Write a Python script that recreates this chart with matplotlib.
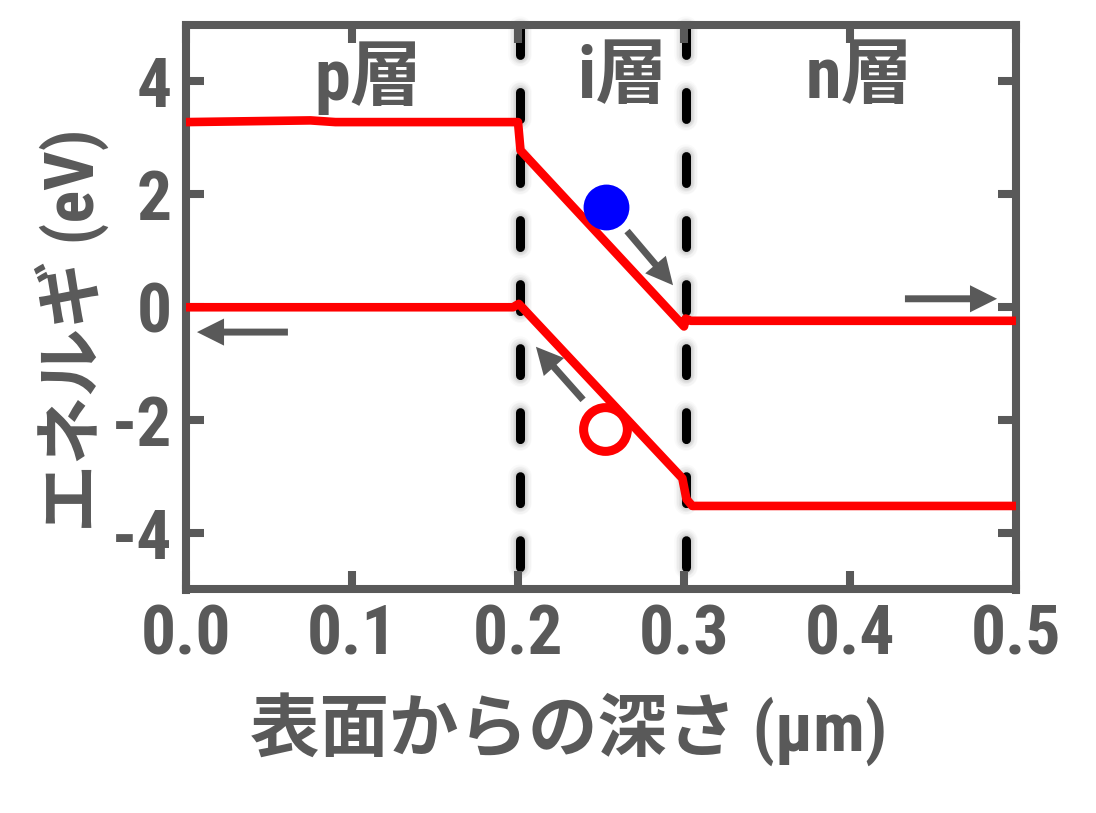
#!/usr/bin/env python
import matplotlib
matplotlib.use('Agg')
from matplotlib import pyplot as plt

plt.rcParams['font.family'] = ['Roboto Condensed', 'Noto Sans CJK JP', 'DejaVu Sans']
plt.rcParams['lines.scale_dashes'] = False

GRAY = '#595959'
RED = '#ff0000'
BLUE = '#0000ff'

# band edges
cond_x = [0.0, 0.075, 0.09, 0.2, 0.2015, 0.3, 0.301, 0.304, 0.5]
cond_y = [3.28, 3.31, 3.28, 3.28, 2.78, -0.34, -0.2, -0.24, -0.24]
val_x = [0.0, 0.197, 0.2005, 0.299, 0.3015, 0.305, 0.5]
val_y = [0.0, 0.0, 0.06, -3.03, -3.4, -3.52, -3.52]

boundaries = [0.2012, 0.3014]
boundary_y = [4.946, -4.707]

layer_x = [0.1096, 0.263, 0.4055]
layer_names = ['p層', 'i層', 'n層']

electron = (0.253, 1.77)
hole = (0.2524, -2.16)

arrow_tails = [(0.2657, 1.35), (0.2392, -1.64), (0.0614, -0.44), (0.4331, 0.15)]
arrow_tips = [(0.2934, 0.39), (0.2108, -0.70), (0.0066, -0.44), (0.4886, 0.15)]

xticks = [0.0, 0.1, 0.2, 0.3, 0.4, 0.5]
xticklabels = ['0.0', '0.1', '0.2', '0.3', '0.4', '0.5']
yticks = [-4, -2, 0, 2, 4]
yticklabels = ['-4', '-2', '0', '2', '4']

fig = plt.figure(figsize=(10.96, 8.13), dpi=100)
ax = fig.add_axes([186 / 1096, 1 - 589.5 / 813, 830 / 1096, 564.5 / 813])

for b in boundaries:
    # soft shadow first
    for w, a in [(17, 0.02), (15, 0.025), (13, 0.03), (11, 0.04), (9, 0.05)]:
        ax.plot([b, b], boundary_y, color='black', lw=w, alpha=a, dashes=(19.4, 26.7),
                dash_capstyle='round', zorder=1, clip_on=False)
    ax.plot([b, b], boundary_y, color='black', lw=6.5, dashes=(19.4, 26.7),
            dash_capstyle='round', zorder=1.5, clip_on=False)

ax.plot(cond_x, cond_y, color=RED, lw=6.2, zorder=3, solid_joinstyle='round',
        solid_capstyle='butt', clip_on=False)
ax.plot(val_x, val_y, color=RED, lw=6.2, zorder=3, solid_joinstyle='round',
        solid_capstyle='butt', clip_on=False)

ax.set_xlim(0, 0.5)
ax.set_ylim(-5, 5)
ax.set_xticks(xticks)
ax.set_xticklabels(xticklabels)
ax.set_yticks(yticks)
ax.set_yticklabels(yticklabels)
ax.tick_params(axis='both', direction='in', length=13, width=5.8, color=GRAY,
               top=True, right=True, labelcolor=GRAY, labelsize=50)
ax.tick_params(axis='x', pad=10)
ax.tick_params(axis='y', pad=10)
for lab in ax.get_xticklabels() + ax.get_yticklabels():
    lab.set_fontweight('bold')
for s in ax.spines.values():
    s.set_color(GRAY)
    s.set_linewidth(5.8)

for x, name in zip(layer_x, layer_names):
    ax.text(x, 4.05, name, color=GRAY, fontsize=52, fontweight='bold', ha='center', va='center')

ax.plot([electron[0]], [electron[1]], 'o', color=BLUE, mec='none', ms=33, zorder=4)
ax.plot([hole[0]], [hole[1]], 'o', mfc='white', mec=RED, mew=6.5, ms=31.5, zorder=4)

for tail, tip in zip(arrow_tails, arrow_tips):
    ax.annotate('', xy=tip, xytext=tail, zorder=4, annotation_clip=False,
                arrowprops=dict(width=5, headwidth=19.5, headlength=19.5, shrink=0,
                                facecolor=GRAY, edgecolor='none', lw=0))

fig.text(72 / 1096, 1 - 330 / 813, 'エネルギ (eV)', rotation=90, color=GRAY, fontsize=49,
         fontweight='bold', ha='center', va='center')
fig.text(569 / 1096, 1 - 729 / 813, '表面からの深さ (μm)', color=GRAY, fontsize=50,
         fontweight='bold', ha='center', va='center')

fig.savefig('out.png', dpi=100)
